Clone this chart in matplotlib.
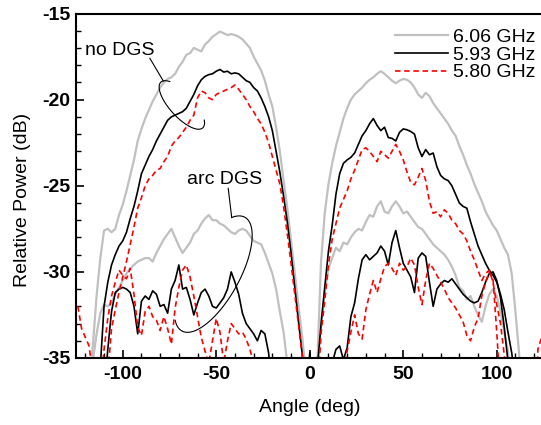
import numpy as np
import matplotlib
matplotlib.use('Agg')
import matplotlib.pyplot as plt
from matplotlib.ticker import MultipleLocator

plt.rcParams['font.family'] = ['Liberation Sans', 'DejaVu Sans']
plt.rcParams['axes.unicode_minus'] = False

# ---------------- data (angle grid, dB values; -40 = below plot floor) -------------
angle = np.arange(-124, 125, 2)

nodgs_606 = [
 -40, -40, -40, -36.5, -34.3, -31.4, -29.2, -27.6, -27.5, -27.7,
 -27.5, -26.7, -26.1, -25.3, -24.4, -23.5, -22.4, -21.7, -21.1, -20.6,
 -20.1, -19.7, -19.3, -19.0, -18.8, -18.7, -18.5, -18.1, -17.8, -17.4,
 -17.3, -17.0, -17.1, -17.2, -16.8, -16.6, -16.35, -16.2, -16.05, -16.15,
 -16.25, -16.2, -16.25, -16.35, -16.5, -16.75, -17.0, -17.5, -17.9, -18.3,
 -18.9, -19.7, -20.4, -21.6, -23.0, -24.7, -26.3, -28.2, -30.1, -32.0,
 -33.8, -36, -40, -38, -35.5, -29.5, -26.6, -24.9, -23.7, -22.7,
 -21.9, -21.1, -20.5, -20.0, -19.7, -19.5, -19.3, -19.05, -18.85, -18.7,
 -18.5, -18.35, -18.5, -18.7, -18.9, -19.05, -18.9, -18.8, -18.85, -19.0,
 -19.3, -19.7, -19.9, -19.6, -19.8, -20.2, -20.5, -20.8, -21.1, -21.4,
 -21.8, -22.1, -22.7, -23.2, -23.8, -24.3, -24.9, -25.4, -25.9, -26.5,
 -26.9, -27.3, -27.6, -28.1, -28.6, -29.0, -30.1, -32.3, -34.8, -38,
 -40, -40, -40, -40, -40]

nodgs_593 = [
 -40, -40, -40, -40, -40, -40, -35.5, -32.0, -30.6, -29.6,
 -29.0, -28.5, -28.2, -27.7, -26.9, -26.2, -25.3, -24.3, -23.8, -23.3,
 -22.9, -22.4, -22.0, -21.6, -21.2, -21.0, -20.9, -20.8, -20.7, -20.5,
 -20.1, -19.7, -19.2, -18.85, -18.65, -18.55, -18.5, -18.35, -18.25, -18.4,
 -18.35, -18.5, -18.45, -18.5, -18.7, -18.9, -19.0, -19.3, -19.5, -19.9,
 -20.4, -21.0, -21.8, -23.0, -24.2, -25.6, -27.1, -28.9, -30.9, -32.9,
 -34.8, -38, -40, -38, -35.6, -33.1, -30.9, -28.8, -27.3, -25.5,
 -24.3, -23.7, -23.5, -23.35, -23.1, -22.6, -22.1, -21.8, -21.4, -21.1,
 -21.5, -21.8, -21.6, -22.2, -22.25, -22.4, -21.9, -21.7, -21.75, -21.85,
 -22.0, -22.8, -23.3, -22.9, -23.2, -23.1, -23.9, -24.4, -24.6, -24.7,
 -25.0, -25.5, -26.0, -26.2, -26.3, -27.1, -27.8, -28.5, -29.0, -29.5,
 -29.9, -30.2, -30.6, -31.3, -32.2, -33.5, -34.7, -36.5, -40, -40,
 -40, -40, -40, -40, -40]

nodgs_580 = [
 -40, -40, -40, -40, -40, -40, -40, -40, -36, -33.3,
 -32.2, -31.2, -30.3, -29.4, -28.4, -27.4, -26.3, -25.7, -25.0, -24.6,
 -24.4, -24.1, -24.0, -23.6, -23.3, -22.7, -22.4, -22.2, -21.9, -21.6,
 -21.2, -20.9, -19.9, -19.5, -19.6, -19.9, -20.0, -19.7, -19.6, -19.5,
 -19.4, -19.3, -19.15, -19.4, -19.7, -20.0, -20.4, -20.7, -21.1, -21.4,
 -21.9, -22.5, -23.3, -24.1, -24.9, -26.2, -27.8, -29.5, -31.3, -33.1,
 -34.9, -38, -40, -40, -37.5, -33.6, -31.7, -29.6, -28.1, -27.2,
 -26.3, -25.8, -25.3, -24.6, -24.1, -23.5, -22.9, -22.8, -23.0, -23.3,
 -23.6, -23.0, -23.2, -23.4, -23.0, -22.6, -23.0, -23.5, -24.2, -24.8,
 -24.95, -24.5, -24.0, -24.7, -25.9, -26.6, -26.5, -26.8, -26.4, -26.6,
 -27.0, -27.2, -27.6, -27.8, -28.2, -28.8, -29.3, -29.9, -30.5, -30.1,
 -29.9, -30.6, -31.9, -33.0, -34.8, -38, -40, -40, -40, -40,
 -40, -40, -40, -40, -40]

arc_606 = [
 -40, -40, -40, -40, -35.2, -33.6, -32.4, -31.9, -32.0, -31.8,
 -31.3, -30.9, -30.5, -30.1, -29.8, -29.6, -29.4, -29.3, -29.2, -29.2,
 -29.4, -28.9, -28.5, -28.1, -27.8, -27.5, -28.0, -28.5, -28.9, -28.6,
 -28.3, -27.8, -27.6, -27.2, -26.9, -26.7, -27.0, -27.0, -27.2, -27.3,
 -27.5, -27.7, -27.8, -27.6, -27.5, -27.6, -27.9, -28.2, -28.3, -28.4,
 -28.9, -29.5, -30.1, -31.0, -32.3, -33.5, -35.3, -38, -40, -40,
 -40, -40, -40, -40, -36, -33.0, -31.2, -29.8, -29.2, -28.6,
 -28.8, -28.3, -28.4, -28.0, -27.7, -27.5, -27.6, -27.1, -26.7, -26.8,
 -26.2, -25.9, -26.5, -26.6, -26.2, -25.9, -26.2, -26.6, -26.5, -26.8,
 -27.1, -27.4, -27.5, -27.8, -28.1, -28.4, -28.6, -28.8, -29.0, -29.3,
 -29.7, -30.2, -30.9, -31.1, -31.6, -31.4, -32.0, -32.5, -32.9, -32.0,
 -31.3, -31.0, -31.4, -32.3, -33.5, -34.6, -37, -40, -40, -40,
 -40, -40, -40, -40, -40]

arc_593 = [
 -40, -40, -40, -40, -40, -40, -40, -37, -34.5, -32.3,
 -31.2, -31.0, -30.9, -31.0, -31.2, -32.0, -33.6, -31.7, -31.4, -31.6,
 -31.1, -31.3, -32.0, -31.9, -32.4, -31.0, -30.5, -29.6, -31.0, -30.9,
 -31.6, -32.5, -31.8, -31.2, -31.0, -31.4, -32.0, -32.1, -31.8, -31.5,
 -31.0, -30.0, -30.6, -31.3, -32.4, -33.0, -33.3, -33.6, -34.0, -33.4,
 -33.6, -34.7, -37, -40, -40, -40, -40, -40, -40, -40,
 -40, -38, -34.7, -38, -40, -40, -40, -40, -35.3, -34.5,
 -34.3, -35.1, -34.4, -32.6, -31.8, -30.4, -29.3, -29.0, -29.3, -29.1,
 -28.9, -28.5, -28.8, -29.6, -28.3, -27.6, -28.6, -29.5, -29.9, -30.3,
 -31.2, -29.2, -28.9, -29.1, -30.6, -32.0, -31.0, -30.7, -30.5, -30.6,
 -30.4, -30.7, -31.0, -31.3, -31.5, -31.7, -31.8, -31.7, -31.2, -30.6,
 -30.1, -30.0, -30.5, -31.5, -33.2, -35.2, -40, -40, -40, -40,
 -40, -40, -40, -40, -40]

arc_580 = [
 -32.0, -33.3, -33.8, -34.3, -36, -38, -37, -34.5, -32.7, -31.4,
 -30.6, -29.9, -30.2, -30.4, -29.8, -31.3, -33.2, -33.7, -32.3, -32.0,
 -32.6, -32.8, -33.4, -32.6, -33.3, -34.2, -32.1, -30.9, -29.9, -29.6,
 -30.3, -31.4, -32.6, -33.8, -34.6, -35.3, -34.0, -32.7, -33.5, -35.3,
 -34.0, -33.0, -33.3, -33.6, -33.5, -33.9, -34.5, -35.3, -37, -40,
 -40, -40, -40, -40, -40, -40, -40, -40, -40, -40,
 -40, -40, -40, -40, -40, -40, -40, -40, -40, -40,
 -40, -36, -34.6, -33.5, -32.5, -33.6, -33.9, -32.2, -31.3, -30.5,
 -31.2, -30.4, -29.7, -29.5, -29.8, -30.2, -29.5, -29.9, -29.7, -29.2,
 -29.6, -30.9, -31.9, -30.5, -29.5, -29.8, -30.2, -30.6, -31.0, -31.5,
 -31.8, -32.1, -32.5, -32.9, -33.7, -34.0, -33.2, -32.7, -31.4, -30.6,
 -30.0, -30.4, -33.5, -37, -40, -40, -40, -40, -40, -40,
 -40, -40, -40, -34.5, -33.8]

labels = ['6.06 GHz', '5.93 GHz', '5.80 GHz']
x_ticks = [-100, -50, 0, 50, 100]
y_ticks = [-35, -30, -25, -20, -15]

# ---------------- figure ----------------
W, H = 541, 425
fig = plt.figure(figsize=(W / 100, H / 100), dpi=100)
ax = fig.add_axes([76 / W, 1 - 358 / H, 467.5 / W, 344.5 / H])

grey = '#c0c0c0'
red_ls = (0, (3.3, 2.2))

ax.plot(angle, arc_606, color=grey, lw=1.6)
h1, = ax.plot(angle, nodgs_606, color=grey, lw=1.6)
ax.plot(angle, arc_593, color='black', lw=1.2)
h2, = ax.plot(angle, nodgs_593, color='black', lw=1.2)
ax.plot(angle, arc_580, color='red', lw=1.2, ls=red_ls)
h3, = ax.plot(angle, nodgs_580, color='red', lw=1.2, ls=red_ls)

ax.set_xlim(-125, 125)
ax.set_ylim(-35, -15)
ax.set_xticks(x_ticks)
ax.set_yticks(y_ticks)
ax.xaxis.set_minor_locator(MultipleLocator(10))
ax.yaxis.set_minor_locator(MultipleLocator(1))
ax.tick_params(which='both', direction='in', top=False, right=False)
ax.tick_params(which='major', length=6, width=1.2, labelsize=14)
ax.tick_params(which='minor', length=3.5, width=1.0)
ax.tick_params(axis='x', pad=6)
ax.tick_params(axis='y', pad=4)
for t in ax.get_xticklabels() + ax.get_yticklabels():
    t.set_fontweight('bold')
for s in ax.spines.values():
    s.set_linewidth(1.5)

ax.set_xlabel('Angle (deg)', fontsize=14, va='center')
ax.set_ylabel('Relative Power (dB)', fontsize=14, va='center')
ax.xaxis.set_label_coords(0.5005, -0.145)
ax.yaxis.set_label_coords(-0.1155, 0.459)

ax.legend([h1, h2, h3], labels, loc='upper right', bbox_to_anchor=(0.982, 0.956),
          frameon=False, fontsize=14, handlelength=2.7, handletextpad=0.25,
          labelspacing=0.0, borderpad=0, borderaxespad=0)

# ---------------- annotations ----------------
def ellipse_pts(cx, cy, a, b, ang, t0, t1, n=200):
    c = ax.transData.transform((cx, cy))
    t = np.radians(np.linspace(t0, t1, n))
    th = np.radians(ang)
    dx = a * np.cos(t) * np.cos(th) - b * np.sin(t) * np.sin(th)
    dy = a * np.cos(t) * np.sin(th) + b * np.sin(t) * np.cos(th)
    return ax.transData.inverted().transform(np.column_stack([c[0] + dx, c[1] + dy]))

ax.text(-120.2, -17.41, 'no DGS', fontsize=14, ha='left', va='baseline')
e1 = ellipse_pts(-68.4, -20.31, 31, 12, -47.6, 145, 392)
ax.plot(e1[:, 0], e1[:, 1], color='black', lw=0.8)
j1 = ellipse_pts(-68.4, -20.31, 31, 12, -47.6, 168, 168, 1)[0]
ax.plot([-85.5, j1[0]], [-17.6, j1[1]], color='black', lw=0.8)

ax.text(-45.8, -24.9, 'arc DGS', fontsize=14, ha='center', va='baseline')
e2 = ellipse_pts(-51.55, -30.13, 65, 26, 61, 26, -205)
ax.plot(e2[:, 0], e2[:, 1], color='black', lw=0.8)
ax.plot([-43.6, e2[0, 0]], [-25.15, e2[0, 1]], color='black', lw=0.8)

fig.savefig('out.png', dpi=100)
